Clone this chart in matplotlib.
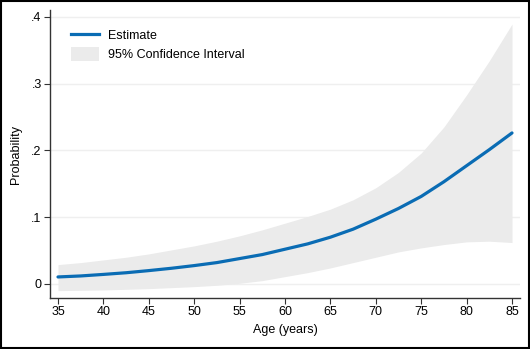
import matplotlib
matplotlib.use('Agg')
import matplotlib.pyplot as plt
from matplotlib.patches import Rectangle, Patch
from matplotlib.lines import Line2D

# values
age = [35, 37.5, 40, 42.5, 45, 47.5, 50, 52.5, 55, 57.5, 60, 62.5,
       65, 67.5, 70, 72.5, 75, 77.5, 80, 82.5, 85]
estimate = [0.0105, 0.012, 0.0143, 0.0168, 0.020, 0.0235, 0.0275, 0.032,
            0.038, 0.044, 0.052, 0.060, 0.070, 0.082, 0.097, 0.113, 0.131,
            0.153, 0.177, 0.201, 0.226]
ci_low = [-0.010, -0.0095, -0.009, -0.008, -0.007, -0.0055, -0.004, -0.002,
          0.001, 0.005, 0.011, 0.017, 0.024, 0.032, 0.040, 0.048, 0.054,
          0.059, 0.063, 0.064, 0.062]
ci_high = [0.029, 0.032, 0.036, 0.040, 0.045, 0.051, 0.057, 0.064, 0.072,
           0.081, 0.091, 0.101, 0.112, 0.126, 0.144, 0.167, 0.196, 0.235,
           0.283, 0.334, 0.389]

x_ticks = [35, 40, 45, 50, 55, 60, 65, 70, 75, 80, 85]
y_ticks = [0, 0.1, 0.2, 0.3, 0.4]
y_labels = ['0', '.1', '.2', '.3', '.4']

plt.rcParams['font.family'] = ['Liberation Sans', 'DejaVu Sans']

fig = plt.figure(figsize=(5.3, 3.49), dpi=100)
ax = fig.add_axes([50 / 530, 51 / 349, 470 / 530, 288 / 349])

band_color = '#ebebeb'
line_color = '#0a6cb4'
fs = 9

ax.fill_between(age, ci_low, ci_high, color=band_color, lw=0, zorder=1)
ax.plot(age, estimate, color=line_color, lw=2.3, zorder=3,
        solid_capstyle='round')

ax.set_xlim(34.12, 85.88)
ax.set_ylim(-0.021, 0.410)
ax.set_xticks(x_ticks)
ax.set_yticks(y_ticks)
ax.set_yticklabels(y_labels)
ax.grid(axis='y', color='#efefef', lw=1, zorder=0)
ax.set_axisbelow(True)

for side in ['top', 'right']:
    ax.spines[side].set_visible(False)
for side in ['left', 'bottom']:
    ax.spines[side].set_color('#333333')
    ax.spines[side].set_linewidth(1.0)

ax.tick_params(axis='both', direction='out', length=4, width=0.8,
               color='#333333', labelsize=fs, pad=2)

ax.set_xlabel('Age (years)', fontsize=fs, labelpad=4)
ax.set_ylabel('Probability', fontsize=fs, labelpad=7)

handles = [Line2D([], [], color=line_color, lw=2.3),
           Patch(facecolor=band_color, edgecolor='none')]
ax.legend(handles, ['Estimate', '95% Confidence Interval'], loc='upper left',
          bbox_to_anchor=(0.02, 0.975), frameon=False, fontsize=fs,
          handlelength=2.3, handleheight=1.3, handletextpad=0.65,
          labelspacing=0.4)

# outer frame around the whole picture
fig.add_artist(Rectangle((0.002, 0.003), 0.996, 0.994,
                         transform=fig.transFigure, fill=False,
                         edgecolor='black', lw=1.5))

fig.savefig('out.png', dpi=100)
